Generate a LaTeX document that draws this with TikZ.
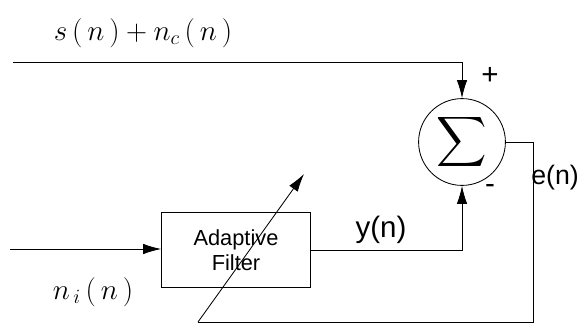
\documentclass[tikz,border=0pt]{standalone}
\usepackage{exscale}
\usepackage{fontspec}
\setmainfont{Liberation Serif}
\setsansfont{Liberation Sans}
\usetikzlibrary{arrows.meta, positioning}

\begin{document}
\begin{tikzpicture}[
    x=0.025cm, y=-0.025cm,
    every node/.style={font=\sffamily},
    wire/.style={line width=0.6pt},
    arrow/.style={wire, -{Latex[length=4.5mm, width=2.6mm]}},
    filterbox/.style={rectangle, draw, line width=0.6pt, minimum width=3.72cm, minimum height=1.88cm, align=center, font=\sffamily\fontsize{15.5}{18}\selectfont},
    sumnode/.style={circle, draw, line width=0.6pt, minimum size=2.17cm, inner sep=0pt},
    siglabel/.style={font=\fontsize{21}{24}\selectfont},
    sflabel/.style={font=\sffamily\fontsize{21}{24}\selectfont, inner sep=0.5pt}
]
\useasboundingbox (0,0) rectangle (578,328);

% blocks
\node[filterbox] (filter) at (236,250) {Adaptive\\Filter};
\node[sumnode] (sum) at (462,142) {\fontsize{24}{24}\selectfont$\displaystyle\sum$};

% free ends
\coordinate (in) at (10,249);
\coordinate (ref) at (13,62);
\coordinate (fb) at (533,322);
\coordinate (adapt0) at (198,322);
\coordinate (adapt1) at (304,174);

% connectors
\draw[arrow] (in) -- (in -| filter.west);
\draw[arrow] (ref) -| (sum.north);
\draw[arrow] (filter.east) -| (sum.south);
\draw[wire] (sum.east) -| (fb) -- (adapt0);
\draw[arrow] (adapt0) -- (adapt1);

% labels
\node[siglabel] (sn) at (143,33) {$s\,(\,n\,)+n_c\,(\,n\,)$};
\node[siglabel] (ni) at (93,292) {$n_{\,i}\,(\,n\,)$};
\node[sflabel] (plus) at (490,76) {+};
\node[sflabel] (minus) at (490,189) {-};
\node[sflabel, font=\sffamily\fontsize{19}{22}\selectfont] (err) at (555,178) {e(n)};
\node[sflabel] (yout) at (381,230) {y(n)};

\end{tikzpicture}
\end{document}
